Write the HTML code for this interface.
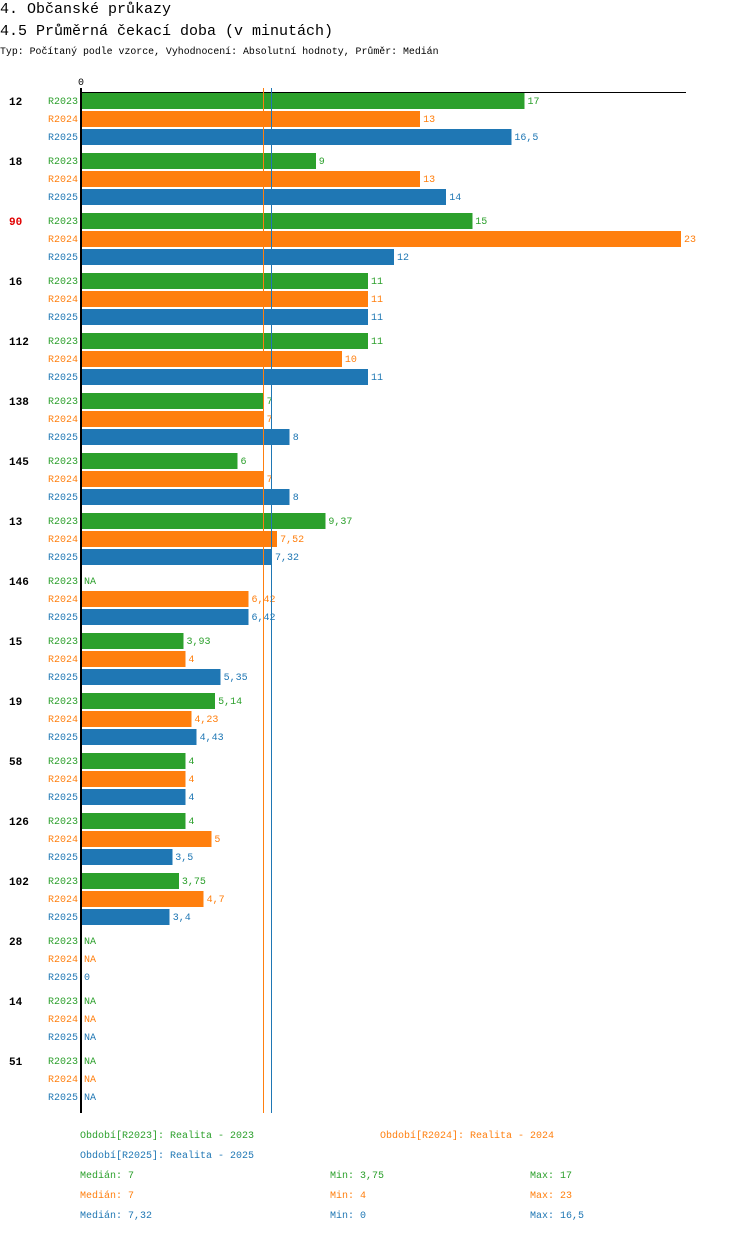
<!DOCTYPE html>
<html><head><meta charset="utf-8"><style>
body{margin:0;background:#fff;width:750px;height:1232px;overflow:hidden;font-family:"Liberation Mono",monospace;}
svg text{font-family:"Liberation Mono","DejaVu Sans Mono",monospace;}
</style></head><body>
<svg id="c" width="750" height="1232" xmlns="http://www.w3.org/2000/svg" shape-rendering="crispEdges">
<text x="0" y="13" font-size="15" fill="#000">4. Občanské průkazy</text>
<text x="0" y="35" font-size="15" fill="#000">4.5 Průměrná čekací doba (v minutách)</text>
<text x="0" y="54" font-size="9.9" fill="#000">Typ: Počítaný podle vzorce, Vyhodnocení: Absolutní hodnoty, Průměr: Medián</text>
<text x="78" y="85" font-size="10" fill="#000">0</text>
<g id="bars"></g>
</svg>
<script>
const categories=["12","18","90","16","112","138","145","13","146","15","19","58","126","102","28","14","51"];
const highlight=["90"];
const series=["R2023","R2024","R2025"];
const colors=["#2ca02c","#ff7f0e","#1f77b4"];
const v2023=[17,9,15,11,11,7,6,9.37,null,3.93,5.14,4,4,3.75,null,null,null];
const v2024=[13,13,23,11,10,7,7,7.52,6.42,4,4.23,4,5,4.7,null,null,null];
const v2025=[16.5,14,12,11,11,8,8,7.32,6.42,5.35,4.43,4,3.5,3.4,0,null,null];
const medians=[7,7,7.32];
const mins=[3.75,4,0];
const maxs=[17,23,16.5];
const g=document.getElementById('bars');
const NS="http://www.w3.org/2000/svg";
const X0=81,XMAX=23,XW=600;
const x=v=>X0+v/XMAX*XW;
const y=(gi,si)=>93+gi*60+si*18;
function el(t,a,p){const e=document.createElementNS(NS,t);for(const k in a)e.setAttribute(k,a[k]);(p||g).appendChild(e);return e;}
const fmt=v=>String(v).replace('.',',');
const vals=[v2023,v2024,v2025];
categories.forEach((c,gi)=>{
  const t=el('text',{x:9,y:y(gi,0)+12,'font-size':11,'font-weight':'bold',fill:highlight.includes(c)?'#e00000':'#000'});
  t.textContent=c;
  
  
  series.forEach((s,si)=>{
    const yy=y(gi,si);
    const l=el('text',{x:78,y:yy+11,'font-size':10,fill:colors[si],'text-anchor':'end'});
    l.textContent=s;
    
    
    const v=vals[si][gi];
    if(v!==null){
      const r=el('rect',{x:X0,y:yy,width:x(v)-X0,height:16,fill:colors[si]});
      
      
    }
    const vt=el('text',{x:(v===null?X0:x(v))+3,y:yy+11,'font-size':10,fill:colors[si]});
    vt.textContent=v===null?'NA':fmt(v);
    
    
  });
});
const ax=el('rect',{x:X0,y:92,width:605,height:1,fill:'#000'});


[1,2].forEach(si=>{
  const mx=Math.floor(x(medians[si]));
  const m=el('rect',{x:mx,y:88,width:1.2,height:1025,fill:colors[si]});
  
  
});
const ya=el('rect',{x:X0-1,y:88,width:2,height:1025,fill:'#000'});


const leg=[["Období[R2023]: Realita - 2023",80,1138,0],["Období[R2024]: Realita - 2024",380,1138,1],["Období[R2025]: Realita - 2025",80,1158,2]];
leg.forEach(a=>{const t=el('text',{x:a[1],y:a[2],'font-size':10,fill:colors[a[3]]});t.textContent=a[0];
  
  });
series.forEach((s,si)=>{
  const yy=1178+si*20;
  const a=el('text',{x:80,y:yy,'font-size':10,fill:colors[si]});a.textContent='Medián: '+fmt(medians[si]);
  
  
  const b=el('text',{x:330,y:yy,'font-size':10,fill:colors[si]});b.textContent='Min: '+fmt(mins[si]);
  
  
  const d=el('text',{x:530,y:yy,'font-size':10,fill:colors[si]});d.textContent='Max: '+fmt(maxs[si]);
  
  
});
</script>
</body></html>
